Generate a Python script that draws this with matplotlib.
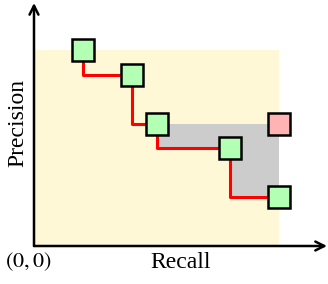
import matplotlib
matplotlib.use("Agg")
import matplotlib.pyplot as plt

# interpolated precision-recall points (recall, precision)
recall = [0.2, 0.4, 0.5, 0.8, 1.0]
precision = [0.8, 0.7, 0.5, 0.4, 0.2]
# outlier point shown in pink
extra_recall = [1.0]
extra_precision = [0.5]
# lower edge of grey region between the step curve and the pink point
gray_recall = [0.5, 0.8, 1.0]
gray_lower = [0.4, 0.2, 0.2]

plt.rcParams['font.family'] = ['Liberation Serif', 'DejaVu Serif']
plt.rcParams['mathtext.fontset'] = 'stix'

fig = plt.figure(figsize=(3.28, 2.84), dpi=100)
ax = fig.add_axes([34 / 328, 38 / 284, 294 / 328, 245 / 284])
ax.set_xlim(0, 1.2)
ax.set_ylim(0, 1.0)
ax.axis('off')

# yellow area under the curve
ax.fill_between([0, recall[-1]], 0, precision[0], color='#fff8d6', lw=0, zorder=1)
# grey area
ax.fill_between(gray_recall, gray_lower, extra_precision[0], step='post',
                color='#cccccc', lw=0, zorder=2)

ax.step(recall, precision, where='pre', color='#ff0000', lw=2.2, zorder=3)

ax.plot(recall, precision, 's', ms=16.5, mfc='#b3ffb3', mec='black', mew=1.8,
        ls='none', zorder=4)
ax.plot(extra_recall, extra_precision, 's', ms=16.5, mfc='#ffb3b3', mec='black',
        mew=1.8, ls='none', zorder=4)

# axes as arrows
arrow = dict(arrowstyle='->', lw=1.8, color='black', mutation_scale=16,
             shrinkA=0, shrinkB=0)
ax.annotate('', xy=(1.196, 0), xytext=(0, 0), arrowprops=arrow,
            annotation_clip=False, zorder=5)
ax.annotate('', xy=(0, 0.992), xytext=(0, 0), arrowprops=arrow,
            annotation_clip=False, zorder=5)

fig.text(181 / 328, 1 - 263 / 284, 'Recall', fontsize=17, ha='center', va='center')
fig.text(18 / 328, 1 - 123 / 284, 'Precision', fontsize=17, rotation=90,
         ha='center', va='center')
fig.text(28 / 328, 1 - 262 / 284, r'$(0,0)$', fontsize=16, ha='center', va='center')

fig.savefig('out.png', dpi=100)
